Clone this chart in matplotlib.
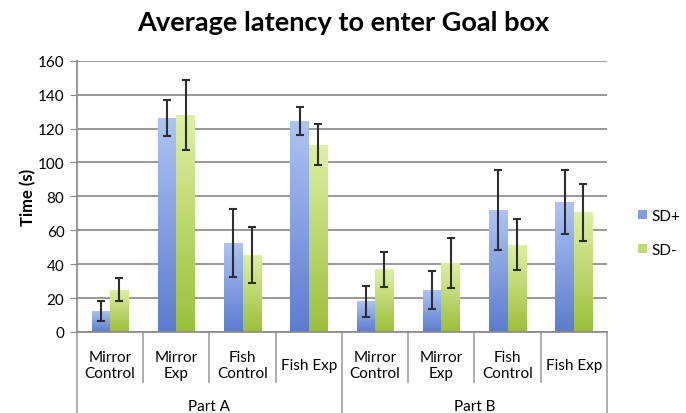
import numpy as np
import matplotlib
matplotlib.use('Agg')
from matplotlib import pyplot as plt
from matplotlib.colors import LinearSegmentedColormap
from matplotlib.patches import Patch
import matplotlib.transforms as mtransforms

plt.rcParams['font.family'] = ['Lato', 'DejaVu Sans']

categories = ['Mirror\nControl', 'Mirror\nExp', 'Fish\nControl', 'Fish Exp',
              'Mirror\nControl', 'Mirror\nExp', 'Fish\nControl', 'Fish Exp']
parts = ['Part A', 'Part B']

sd_plus = [12.5, 126, 52.5, 124.5, 18, 25, 72, 76.5]
sd_plus_err = [5.8, 10.6, 20.3, 8.4, 8.9, 11.2, 23.8, 19]
sd_minus = [25, 128, 45.5, 110.5, 37, 40.5, 51.5, 70.5]
sd_minus_err = [7, 20.5, 16.5, 12, 10.3, 14.8, 15, 16.6]

blue_cmap = LinearSegmentedColormap.from_list('b', ['#5b7ccf', '#adc4f4'])
green_cmap = LinearSegmentedColormap.from_list('g', ['#9cbf3a', '#def0a4'])

fig = plt.figure(figsize=(6.86, 4.14), dpi=100)
ax = fig.add_axes([0.1122, 0.1957, 0.7726, 0.6553])

x = np.arange(len(categories))
w = 0.28

grad = np.linspace(0, 1, 256).reshape(-1, 1)


def gradient_bars(xs, vals, cmap):
    bars = ax.bar(xs, vals, w, color='none', edgecolor='none', zorder=2)
    for b in bars:
        im = ax.imshow(grad, cmap=cmap, origin='lower', aspect='auto',
                       extent=[b.get_x(), b.get_x() + b.get_width(), 0, b.get_height()],
                       zorder=2, interpolation='bilinear')
        im.set_clip_path(b)
    return bars


gradient_bars(x - w / 2, sd_plus, blue_cmap)
gradient_bars(x + w / 2, sd_minus, green_cmap)

ax.errorbar(x - w / 2, sd_plus, yerr=sd_plus_err, fmt='none', ecolor='#2e2e2e',
            elinewidth=1.5, capsize=3, capthick=1.5, zorder=3)
ax.errorbar(x + w / 2, sd_minus, yerr=sd_minus_err, fmt='none', ecolor='#2e2e2e',
            elinewidth=1.5, capsize=3, capthick=1.5, zorder=3)

ax.set_xlim(-0.5, len(categories) - 0.5)
ax.set_ylim(0, 160)
ax.set_yticks(range(0, 161, 20))
ax.yaxis.grid(True, color='#888888', linewidth=1.2)
ax.set_axisbelow(True)
for s in ['top', 'right']:
    ax.spines[s].set_visible(False)
ax.spines['left'].set_color('#888888')
ax.spines['bottom'].set_color('#888888')
ax.spines['left'].set_linewidth(1.2)
ax.spines['bottom'].set_linewidth(1.2)
ax.tick_params(axis='y', length=5, color='#888888', labelsize=11, pad=4)
ax.set_xticks([])

ax.set_ylabel('Time (s)', fontsize=12, fontweight='bold', labelpad=1)
fig.text(0.5, 0.945, 'Average latency to enter Goal box', fontsize=19.5,
         fontweight='bold', ha='center', va='center')

# category grid below axis
trans = mtransforms.blended_transform_factory(ax.transData, ax.transAxes)
for i in range(len(categories) + 1):
    xb = i - 0.5
    bottom = -0.30 if i % 4 == 0 else -0.185
    ax.plot([xb, xb], [0, bottom], transform=trans, color='#a0a0a0',
            linewidth=1.2, clip_on=False)
for i, c in enumerate(categories):
    ax.text(i, -0.122, c, transform=trans, ha='center', va='center',
            fontsize=11, linespacing=1.25)
for j, p in enumerate(parts):
    ax.text(j * 4 + 1.5, -0.273, p, transform=trans, ha='center', va='center',
            fontsize=11)

handles = [Patch(facecolor='#7d9be3', label='SD+'), Patch(facecolor='#bedb6d', label='SD-')]
fig.legend(handles=handles, loc='center left', bbox_to_anchor=(0.91, 0.435),
           frameon=False, fontsize=11, handlelength=0.6, handleheight=0.6,
           handletextpad=0.3, labelspacing=1.3)

fig.savefig('out.png', dpi=100)
